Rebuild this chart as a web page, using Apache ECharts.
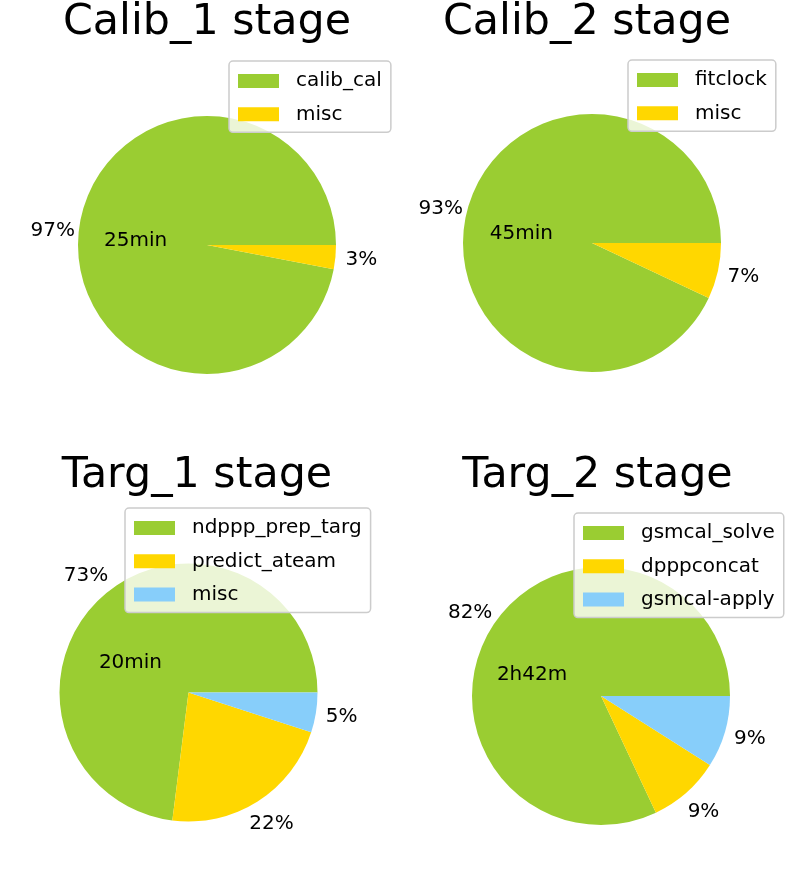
<!DOCTYPE html>
<html><head><meta charset="utf-8">
<script src="https://cdn.jsdelivr.net/npm/echarts@6/dist/echarts.min.js"></script>
<style>html,body{margin:0;padding:0;background:#fff}#c{width:790px;height:885px}</style>
</head><body><div id="c"></div>
<script>
// ---- data ----
const titles = ['Calib_1 stage', 'Calib_2 stage', 'Targ_1 stage', 'Targ_2 stage'];
const totals = ['25min', '45min', '20min', '2h42m'];
const calib1Names = ['calib_cal', 'misc'];
const calib1Values = [97, 3];
const calib2Names = ['fitclock', 'misc'];
const calib2Values = [93, 7];
const targ1Names = ['ndppp_prep_targ', 'predict_ateam', 'misc'];
const targ1Values = [73, 22, 5];
const targ2Names = ['gsmcal_solve', 'dpppconcat', 'gsmcal-apply'];
const targ2Values = [82, 9, 9];
const sliceColors = ['#9ACD32', '#FFD700', '#87CEFA'];

const pies = [
  {names: calib1Names, values: calib1Values},
  {names: calib2Names, values: calib2Values},
  {names: targ1Names, values: targ1Values},
  {names: targ2Names, values: targ2Values}
];

// ---- layout / style ----
const FONT = 'DejaVu Sans';
const FS = 20;
const R = 129;
const layouts = [
  {center: [207, 245], title: [207, 1], legend: [229, 61]},
  {center: [592, 243], title: [587, 1], legend: [628, 60]},
  {center: [188.5, 692.5], title: [197, 454], legend: [125, 508]},
  {center: [601, 696], title: [597.5, 454], legend: [574, 513]}
];

const measure = (() => {
  const ctx = document.createElement('canvas').getContext('2d');
  return (t, size) => { ctx.font = size + 'px "' + FONT + '"'; return ctx.measureText(t).width; };
})();

const title = [], legend = [], series = [];
pies.forEach((p, k) => {
  const L = layouts[k];
  title.push({
    text: titles[k], left: L.title[0], top: L.title[1], textAlign: 'center', padding: 0,
    textStyle: {fontFamily: FONT, fontSize: 42.8, fontWeight: 'normal', color: '#000'}
  });
  legend.push({
    orient: 'vertical', left: L.legend[0], top: L.legend[1], padding: [10, 9, 8, 9],
    itemWidth: 41, itemHeight: 14, itemGap: 13.3, icon: 'rect', selectedMode: false,
    backgroundColor: 'rgba(255,255,255,0.8)', borderColor: '#cccccc', borderWidth: 1.5, borderRadius: 4,
    textStyle: {fontFamily: FONT, fontSize: FS, color: '#000', padding: [0, 0, 0, 12]},
    data: p.names.map((n, i) => ({name: n, itemStyle: {color: sliceColors[i]}}))
  });
  const common = {type: 'pie', center: L.center, startAngle: 0, clockwise: false,
    avoidLabelOverlap: false, labelLine: {show: false}};
  series.push(Object.assign({}, common, {
    radius: R,
    itemStyle: {borderWidth: 0},
    emphasis: {scale: false},
    label: {show: false},
    data: p.names.map((n, i) => ({name: n, value: p.values[i], itemStyle: {color: sliceColors[i]}}))
  }));
  series.push(Object.assign({}, common, {
    radius: [140, 164], silent: true, percentPrecision: 0,
    itemStyle: {color: 'rgba(0,0,0,0)', borderWidth: 0},
    label: {show: true, position: 'inside', fontFamily: FONT, fontSize: FS, color: '#000',
      formatter: q => q.percent + '%'},
    data: p.values.map(v => ({value: v}))
  }));
  const w = measure(totals[k], FS);
  series.push(Object.assign({}, common, {
    radius: [0, 74], silent: true,
    itemStyle: {color: 'rgba(0,0,0,0)', borderWidth: 0},
    label: {show: true, position: 'inside', fontFamily: FONT, fontSize: FS, color: '#000',
      padding: [0, w, 0, 0],
      formatter: q => q.dataIndex === 0 ? totals[k] : ''},
    data: p.values.map(v => ({value: v}))
  }));
});

const chart = echarts.init(document.getElementById('c'), null, {renderer: 'canvas'});
chart.setOption({animation: false, backgroundColor: '#fff', title, legend, series});
</script>
</body></html>
